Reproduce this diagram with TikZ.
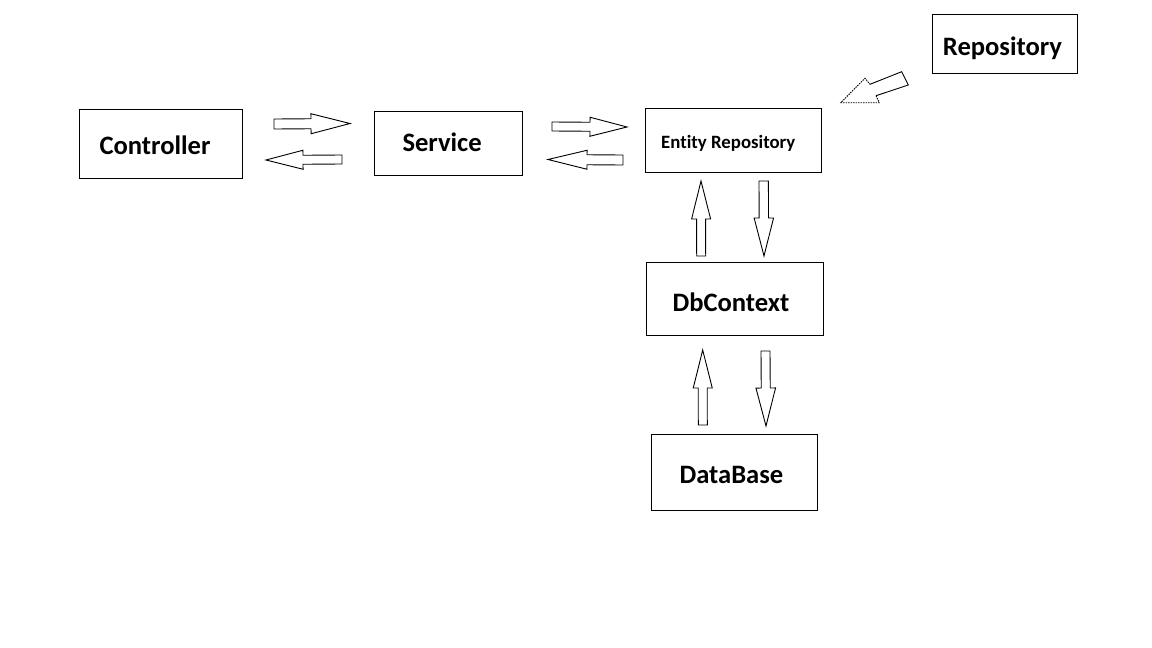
\documentclass[tikz,border=0pt]{standalone}
\usepackage{fontspec}
\setmainfont[Ligatures=NoCommon]{Carlito}
\usetikzlibrary{calc}
\newcommand\blockarr[5]{% #1 start coord, #2 tip coord, #3 shaft half width, #4 head half width, #5 head length (pt)
  \coordinate (hb) at ($(#2)!#5pt!(#1)$);
  \draw[barr] ($(#1)!#3pt!90:(#2)$) -- ($(hb)!#3pt!90:(#2)$) -- ($(hb)!#4pt!90:(#2)$) -- (#2)
    -- ($(hb)!#4pt!-90:(#2)$) -- ($(hb)!#3pt!-90:(#2)$) -- ($(#1)!#3pt!-90:(#2)$) -- cycle;
}
\begin{document}
\begin{tikzpicture}[x=1pt,y=-1pt,
  box/.style={draw=black,line width=1pt,fill=white},
  lbl/.style={anchor=base west,inner sep=0pt,font=\bfseries\fontsize{26.6}{30}\selectfont},
  slbl/.style={anchor=base west,inner sep=0pt,font=\bfseries\fontsize{18.8}{22}\selectfont},
  barr/.style={draw=black,line width=0.9pt,line join=miter,fill=white}]
\useasboundingbox[fill=white] (0,0) rectangle (1152,648);

% boxes
\draw[box] (79.5,109.5) rectangle (242.5,178.5);
\node[lbl] (ctrl) at (99.3,154) {Controller};
\draw[box] (374.5,111.5) rectangle (522.5,175.5);
\node[lbl] (serv) at (402.3,151.7) {Service};
\draw[box] (645.5,108.5) rectangle (821.5,172.5);
\node[slbl] (erepo) at (661,148.3) {Entity Repository};
\draw[box] (932.5,14.5) rectangle (1077.5,73.5);
\node[lbl] (repo) at (942.7,55) {Repository};
\draw[box] (646.5,262.5) rectangle (823.5,335.5);
\node[lbl] (dbc) at (672.3,311.7) {DbContext};
\draw[box] (651.5,434.5) rectangle (817.5,510.5);
\node[lbl] (dbase) at (679.3,483.3) {DataBase};

% arrow end points
\coordinate (a1s) at (274,124);   \coordinate (a1e) at (350,123.5);
\coordinate (a2s) at (342,159.5); \coordinate (a2e) at (266,160);
\coordinate (a3s) at (552,126.5); \coordinate (a3e) at (627,127);
\coordinate (a4s) at (623,160);   \coordinate (a4e) at (548,159.5);
\coordinate (a5s) at (701.2,256); \coordinate (a5e) at (701,181);
\coordinate (a6s) at (763.7,181); \coordinate (a6e) at (764,256);
\coordinate (a7s) at (702.8,425); \coordinate (a7e) at (702.7,350);
\coordinate (a8s) at (765.5,351); \coordinate (a8e) at (766,426);

\blockarr{a1s}{a1e}{5}{10}{39}
\blockarr{a2s}{a2e}{4.5}{9.5}{37}
\blockarr{a3s}{a3e}{4.5}{9.5}{37}
\blockarr{a4s}{a4e}{5}{9.5}{39}
\blockarr{a5s}{a5e}{4.5}{9.5}{38}
\blockarr{a6s}{a6e}{4.7}{9.7}{38}
\blockarr{a7s}{a7e}{4.5}{9.5}{38}
\blockarr{a8s}{a8e}{4.5}{9.8}{38}

% Repository arrow (dashed head)
\coordinate (r1) at (870,84.3);
\coordinate (r2) at (901.7,71.7);
\coordinate (r3) at (908.3,85);
\coordinate (r4) at (876,95.7);
\coordinate (r5) at (879.3,102.7);
\coordinate (r6) at (840.7,102.7);
\coordinate (r7) at (865,78.3);
\fill[white] (r1)--(r2)--(r3)--(r4)--(r5)--(r6)--(r7)--cycle;
\draw[line width=0.9pt] (r1)--(r2)--(r3)--(r4);
\draw[line width=0.9pt,dash pattern=on 1.5pt off 1pt] (r4)--(r5)--(r6)--(r7)--(r1);
\end{tikzpicture}
\end{document}
